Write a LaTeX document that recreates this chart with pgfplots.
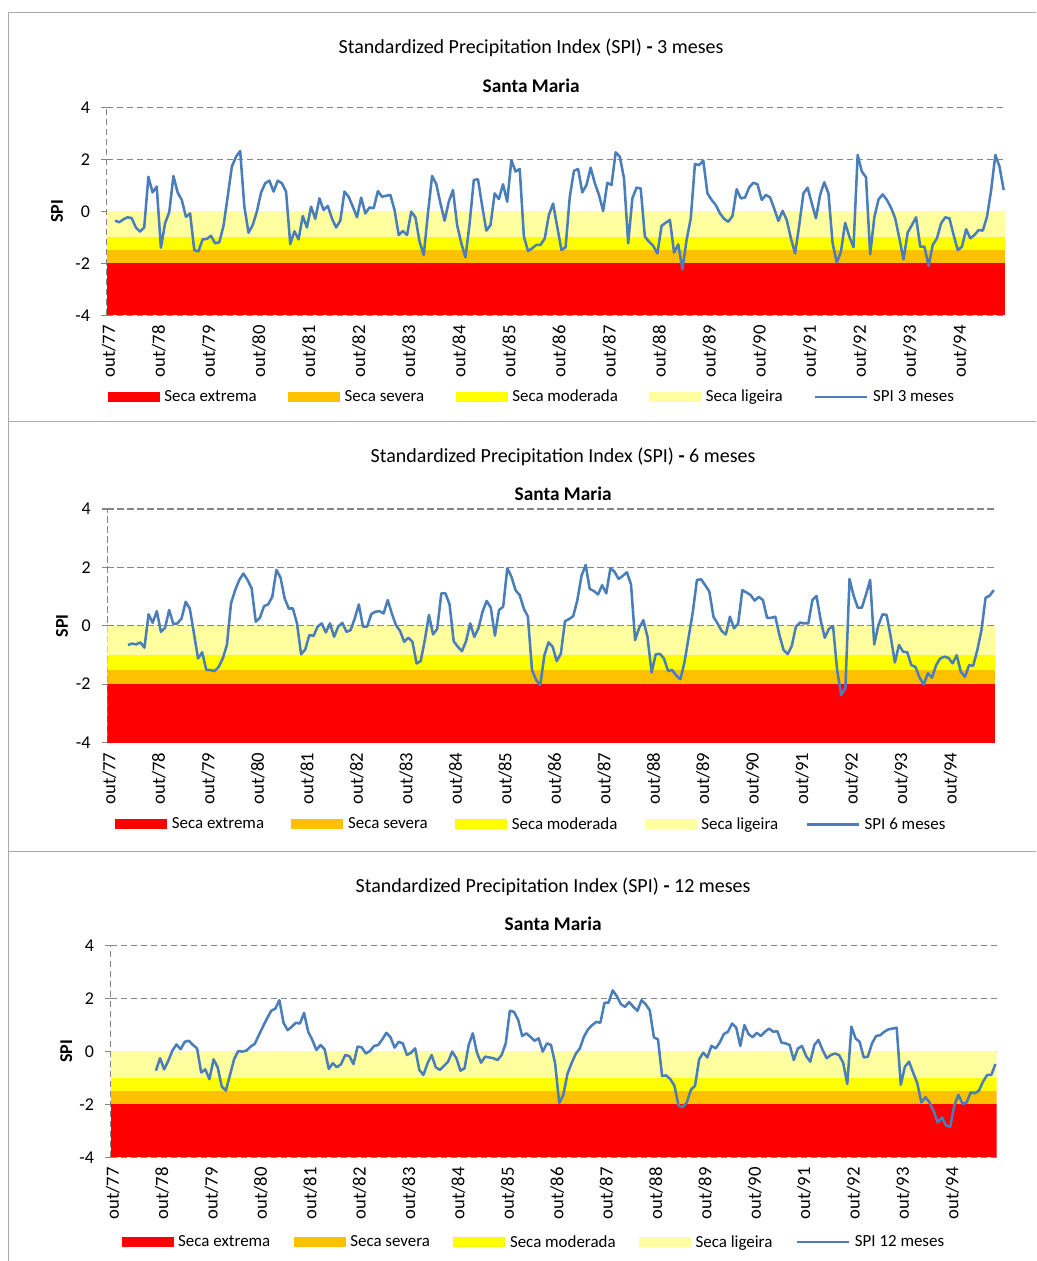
\documentclass[border=0pt]{standalone}
\usepackage{fontspec}
\setmainfont{Carlito}
\usepackage{pgfplots}
\pgfplotsset{compat=1.18}
\definecolor{spiblue}{RGB}{74,126,187}
\definecolor{secaext}{RGB}{255,0,0}
\definecolor{secasev}{RGB}{255,192,0}
\definecolor{secamod}{RGB}{255,255,0}
\definecolor{secalig}{RGB}{255,255,160}
\definecolor{gridgray}{RGB}{134,134,134}
\definecolor{framegray}{RGB}{170,170,170}

\pgfplotsset{
 spi/.style={
  scale only axis,
  xmin=0, xmax=215.3, ymin=-4, ymax=4,
  axis lines*=left,
  separate axis lines,
  x axis line style={draw=none},
  y axis line style={draw=gridgray, line width=0.9pt, dash pattern=on 5pt off 2.5pt},
  ytick={-4,-2,0,2,4}, yticklabels={-4,-2,0,2,4},
  xtick={0.5,12.5,24.5,36.5,48.5,60.5,72.5,84.5,96.5,108.5,120.5,132.5,144.5,156.5,168.5,180.5,192.5,204.5},
  xticklabels={out/77,out/78,out/79,out/80,out/81,out/82,out/83,out/84,out/85,out/86,out/87,out/88,out/89,out/90,out/91,out/92,out/93,out/94},
  x tick label style={rotate=90, anchor=east, font=\fontsize{14}{16}\selectfont},
  y tick label style={font=\fontsize{13.5}{16}\selectfont, xshift=-5pt},
  xtick style={draw=none},
  ytick style={draw=gridgray, line width=0.9pt},
  tick align=outside, major tick length=4pt,
  ymajorgrids,
  major grid style={draw=gridgray, line width=0.9pt, dash pattern=on 5pt off 2.5pt},
  ylabel={\textbf{SPI}},
  ylabel style={font=\fontsize{13.5}{16}\selectfont, anchor=center},
  legend columns=5,
  legend style={draw=none, fill=none, font=\fontsize{12.7}{15}\selectfont,
    /tikz/every odd column/.append style={column sep=1.5pt}},
  legend cell align=left,
 },
 bext/.style={draw=none, fill=secaext, legend image code/.code={\fill[secaext] (0pt,-3.7pt) rectangle (39pt,3.7pt);}},
 bsev/.style={draw=none, fill=secasev, legend image code/.code={\fill[secasev] (0pt,-3.7pt) rectangle (39pt,3.7pt);}},
 bmod/.style={draw=none, fill=secamod, legend image code/.code={\fill[secamod] (0pt,-3.7pt) rectangle (39pt,3.7pt);}},
 blig/.style={draw=none, fill=secalig, legend image code/.code={\fill[secalig] (0pt,-3.7pt) rectangle (39pt,3.7pt);}},
 sline/.style={spiblue, line width=1.9pt, line join=round, mark=none, legend image code/.code={\draw[spiblue, line width=1.9pt] (0pt,0pt) -- (39pt,0pt);}},
}

\begin{document}
\begin{tikzpicture}
\useasboundingbox (0pt,0pt) rectangle (777pt,-945.75pt);
\draw[framegray, line width=0.75pt] (6pt,-9pt) -- (777pt,-9pt);
\draw[framegray, line width=0.75pt] (6pt,-9pt) -- (6pt,-945.75pt);
\draw[framegray, line width=0.75pt] (6pt,-315.75pt) -- (777pt,-315.75pt);
\draw[framegray, line width=0.75pt] (6pt,-638.25pt) -- (777pt,-638.25pt);

% ---------------- Panel 1: SPI 3 meses
\begin{axis}[spi, at={(80.0pt,-80.5pt)}, anchor=north west, width=673.7pt, height=156pt,
  ylabel style={at={(axis description cs:-0.0553,0.5)}},
  legend style={at={(0.4737,-0.393)}, anchor=center, /tikz/every even column/.append style={column sep=21.5pt}}]
\addplot[bext] coordinates {(0,-4) (215.3,-4) (215.3,-2) (0,-2)};
\addlegendentry{Seca extrema}
\addplot[bsev] coordinates {(0,-2) (215.3,-2) (215.3,-1.5) (0,-1.5)};
\addlegendentry{Seca severa}
\addplot[bmod] coordinates {(0,-1.5) (215.3,-1.5) (215.3,-1) (0,-1)};
\addlegendentry{Seca moderada}
\addplot[blig] coordinates {(0,-1) (215.3,-1) (215.3,0) (0,0)};
\addlegendentry{Seca ligeira}
\addplot[sline] coordinates {
(2,-0.36)(3,-0.42)(4,-0.31)(5,-0.23)(6,-0.26)(7,-0.62)(8,-0.78)(9,-0.62)(10,1.33)(11,0.73)
(12,0.95)(13,-1.40)(14,-0.46)(15,-0.03)(16,1.36)(17,0.73)(18,0.44)(19,-0.21)(20,-0.08)(21,-1.49)
(22,-1.54)(23,-1.08)(24,-1.06)(25,-0.94)(26,-1.23)(27,-1.19)(28,-0.56)(29,0.56)(30,1.72)(31,2.10)
(32,2.32)(33,0.18)(34,-0.82)(35,-0.53)(36,-0.01)(37,0.72)(38,1.08)(39,1.18)(40,0.76)(41,1.18)
(42,1.08)(43,0.76)(44,-1.26)(45,-0.77)(46,-1.08)(47,-0.18)(48,-0.62)(49,0.18)(50,-0.29)(51,0.50)
(52,0.05)(53,0.21)(54,-0.28)(55,-0.62)(56,-0.36)(57,0.76)(58,0.56)(59,0.18)(60,-0.23)(61,0.53)
(62,-0.08)(63,0.15)(64,0.12)(65,0.78)(66,0.56)(67,0.60)(68,0.63)(69,0.05)(70,-0.91)(71,-0.76)
(72,-0.91)(73,-0.01)(74,-0.23)(75,-1.17)(76,-1.68)(77,-0.08)(78,1.36)(79,1.05)(80,0.31)(81,-0.36)
(82,0.37)(83,0.82)(84,-0.53)(85,-1.23)(86,-1.77)(87,-0.46)(88,1.21)(89,1.23)(90,0.21)(91,-0.74)
(92,-0.53)(93,0.69)(94,0.47)(95,1.04)(96,0.37)(97,1.97)(98,1.53)(99,1.63)(100,-0.97)(101,-1.53)
(102,-1.42)(103,-1.29)(104,-1.29)(105,-1.04)(106,-0.14)(107,0.30)(108,-0.60)(109,-1.49)(110,-1.38)(111,0.56)
(112,1.56)(113,1.63)(114,0.73)(115,1.01)(116,1.68)(117,1.08)(118,0.63)(119,0.01)(120,1.10)(121,1.01)
(122,2.27)(123,2.10)(124,1.27)(125,-1.23)(126,0.50)(127,0.91)(128,0.88)(129,-0.97)(130,-1.17)(131,-1.33)
(132,-1.62)(133,-0.56)(134,-0.44)(135,-0.33)(136,-1.59)(137,-1.27)(138,-2.23)(139,-1.10)(140,-0.27)(141,1.82)
(142,1.78)(143,1.95)(144,0.69)(145,0.44)(146,0.24)(147,-0.08)(148,-0.29)(149,-0.40)(150,-0.18)(151,0.85)
(152,0.50)(153,0.53)(154,0.92)(155,1.10)(156,1.04)(157,0.44)(158,0.63)(159,0.54)(160,0.10)(161,-0.37)
(162,0.02)(163,-0.33)(164,-1.04)(165,-1.62)(166,-0.53)(167,0.69)(168,0.91)(169,0.31)(170,-0.27)(171,0.63)
(172,1.12)(173,0.69)(174,-1.23)(175,-1.97)(176,-1.55)(177,-0.44)(178,-0.97)(179,-1.38)(180,2.17)(181,1.53)
(182,1.31)(183,-1.65)(184,-0.23)(185,0.46)(186,0.65)(187,0.44)(188,0.14)(189,-0.27)(190,-1.04)(191,-1.85)
(192,-0.81)(193,-0.53)(194,-0.23)(195,-1.36)(196,-1.36)(197,-2.10)(198,-1.29)(199,-1.04)(200,-0.46)(201,-0.23)
(202,-0.27)(203,-0.91)(204,-1.49)(205,-1.36)(206,-0.69)(207,-1.04)(208,-0.91)(209,-0.72)(210,-0.74)(211,-0.21)
(212,0.82)(213,2.17)(214,1.72)(215,0.82)
};
\addlegendentry{SPI 3 meses}
\end{axis}

% ---------------- Panel 2: SPI 6 meses
\begin{axis}[spi, at={(80.5pt,-381.7pt)}, anchor=north west, width=665.8pt, height=175.2pt,
  ylabel style={at={(axis description cs:-0.051,0.5)}},
  legend style={at={(0.478,-0.35)}, anchor=center, /tikz/every even column/.append style={column sep=18.5pt}}]
\addplot[bext] coordinates {(0,-4) (215.3,-4) (215.3,-2) (0,-2)};
\addlegendentry{Seca extrema}
\addplot[bsev] coordinates {(0,-2) (215.3,-2) (215.3,-1.5) (0,-1.5)};
\addlegendentry{Seca severa}
\addplot[bmod] coordinates {(0,-1.5) (215.3,-1.5) (215.3,-1) (0,-1)};
\addlegendentry{Seca moderada}
\addplot[blig] coordinates {(0,-1) (215.3,-1) (215.3,0) (0,0)};
\addlegendentry{Seca ligeira}
\addplot[sline] coordinates {
(5,-0.66)(6,-0.61)(7,-0.64)(8,-0.57)(9,-0.75)(10,0.39)(11,0.10)(12,0.50)(13,-0.21)(14,-0.07)
(15,0.54)(16,0.06)(17,0.08)(18,0.25)(19,0.82)(20,0.59)(21,-0.26)(22,-1.12)(23,-0.91)(24,-1.51)
(25,-1.52)(26,-1.55)(27,-1.41)(28,-1.12)(29,-0.66)(30,0.77)(31,1.22)(32,1.57)(33,1.79)(34,1.57)
(35,1.28)(36,0.14)(37,0.27)(38,0.67)(39,0.73)(40,0.99)(41,1.91)(42,1.65)(43,0.94)(44,0.59)
(45,0.59)(46,0.08)(47,-0.98)(48,-0.81)(49,-0.32)(50,-0.35)(51,-0.03)(52,0.08)(53,-0.23)(54,0.08)
(55,-0.38)(56,-0.03)(57,0.10)(58,-0.21)(59,-0.15)(60,0.25)(61,0.73)(62,-0.03)(63,-0.03)(64,0.40)
(65,0.48)(66,0.50)(67,0.42)(68,0.88)(69,0.42)(70,0.02)(71,-0.18)(72,-0.55)(73,-0.41)(74,-0.55)
(75,-1.29)(76,-1.21)(77,-0.49)(78,0.37)(79,-0.30)(80,-0.11)(81,1.11)(82,1.11)(83,0.73)(84,-0.53)
(85,-0.72)(86,-0.87)(87,-0.53)(88,0.08)(89,-0.38)(90,-0.09)(91,0.48)(92,0.85)(93,0.62)(94,-0.34)
(95,0.54)(96,0.65)(97,1.97)(98,1.68)(99,1.22)(100,1.05)(101,0.59)(102,0.31)(103,-1.52)(104,-1.86)
(105,-2.03)(106,-1.01)(107,-0.57)(108,-0.72)(109,-1.21)(110,-0.95)(111,0.16)(112,0.23)(113,0.33)(114,0.88)
(115,1.71)(116,2.08)(117,1.26)(118,1.19)(119,1.07)(120,1.39)(121,1.11)(122,1.97)(123,1.85)(124,1.60)
(125,1.71)(126,1.83)(127,1.42)(128,-0.49)(129,-0.07)(130,0.19)(131,-0.38)(132,-1.60)(133,-0.98)(134,-0.96)
(135,-1.12)(136,-1.55)(137,-1.52)(138,-1.71)(139,-1.83)(140,-1.23)(141,-0.38)(142,0.48)(143,1.57)(144,1.59)
(145,1.39)(146,1.17)(147,0.31)(148,0.08)(149,-0.18)(150,-0.30)(151,0.31)(152,-0.09)(153,0.08)(154,1.22)
(155,1.14)(156,1.05)(157,0.86)(158,0.99)(159,0.88)(160,0.27)(161,0.27)(162,0.31)(163,-0.32)(164,-0.83)
(165,-0.97)(166,-0.69)(167,-0.03)(168,0.11)(169,0.08)(170,0.08)(171,0.88)(172,1.02)(173,0.19)(174,-0.41)
(175,-0.11)(176,-0.01)(177,-1.52)(178,-2.38)(179,-2.13)(180,1.60)(181,1.03)(182,0.62)(183,0.62)(184,1.07)
(185,1.57)(186,-0.64)(187,0.02)(188,0.39)(189,0.37)(190,-0.38)(191,-1.26)(192,-0.66)(193,-0.89)(194,-0.91)
(195,-1.35)(196,-1.41)(197,-1.78)(198,-2.01)(199,-1.63)(200,-1.78)(201,-1.35)(202,-1.12)(203,-1.06)(204,-1.10)
(205,-1.29)(206,-1.01)(207,-1.58)(208,-1.75)(209,-1.35)(210,-1.37)(211,-0.83)(212,-0.15)(213,0.96)(214,1.03)
(215,1.22)
};
\addlegendentry{SPI 6 meses}
\end{axis}

% ---------------- Panel 3: SPI 12 meses
\begin{axis}[spi, at={(83.0pt,-709.0pt)}, anchor=north west, width=664.5pt, height=159pt,
  ylabel style={at={(axis description cs:-0.050,0.5)}},
  legend style={at={(0.478,-0.4)}, anchor=center, /tikz/every even column/.append style={column sep=15.5pt}}]
\addplot[bext] coordinates {(0,-4) (215.3,-4) (215.3,-2) (0,-2)};
\addlegendentry{Seca extrema}
\addplot[bsev] coordinates {(0,-2) (215.3,-2) (215.3,-1.5) (0,-1.5)};
\addlegendentry{Seca severa}
\addplot[bmod] coordinates {(0,-1.5) (215.3,-1.5) (215.3,-1) (0,-1)};
\addlegendentry{Seca moderada}
\addplot[blig] coordinates {(0,-1) (215.3,-1) (215.3,0) (0,0)};
\addlegendentry{Seca ligeira}
\addplot[sline] coordinates {
(11,-0.73)(12,-0.26)(13,-0.68)(14,-0.36)(15,0.03)(16,0.26)(17,0.08)(18,0.36)(19,0.40)(20,0.24)
(21,0.11)(22,-0.80)(23,-0.68)(24,-1.05)(25,-0.30)(26,-0.60)(27,-1.33)(28,-1.48)(29,-0.89)(30,-0.30)
(31,0.01)(32,-0.01)(33,0.03)(34,0.18)(35,0.28)(36,0.61)(37,0.93)(38,1.24)(39,1.53)(40,1.61)
(41,1.93)(42,1.08)(43,0.80)(44,0.93)(45,1.08)(46,1.05)(47,1.45)(48,0.74)(49,0.43)(50,0.05)
(51,0.24)(52,0.08)(53,-0.66)(54,-0.45)(55,-0.60)(56,-0.48)(57,-0.14)(58,-0.18)(59,-0.48)(60,0.18)
(61,0.15)(62,-0.08)(63,0.01)(64,0.20)(65,0.24)(66,0.45)(67,0.70)(68,0.53)(69,0.14)(70,0.36)
(71,0.30)(72,-0.14)(73,-0.05)(74,0.11)(75,-0.70)(76,-0.89)(77,-0.45)(78,-0.14)(79,-0.60)(80,-0.70)
(81,-0.55)(82,-0.39)(83,-0.01)(84,-0.26)(85,-0.73)(86,-0.64)(87,0.24)(88,0.68)(89,-0.05)(90,-0.43)
(91,-0.20)(92,-0.23)(93,-0.26)(94,-0.33)(95,-0.14)(96,0.30)(97,1.53)(98,1.49)(99,1.20)(100,0.58)
(101,0.68)(102,0.55)(103,0.40)(104,0.49)(105,-0.01)(106,0.30)(107,0.24)(108,-0.45)(109,-1.95)(110,-1.64)
(111,-0.85)(112,-0.45)(113,-0.10)(114,0.11)(115,0.55)(116,0.83)(117,0.99)(118,1.11)(119,1.08)(120,1.83)
(121,1.84)(122,2.30)(123,2.08)(124,1.78)(125,1.68)(126,1.86)(127,1.68)(128,1.53)(129,1.93)(130,1.78)
(131,1.55)(132,0.53)(133,0.45)(134,-0.93)(135,-0.91)(136,-1.05)(137,-1.30)(138,-2.05)(139,-2.10)(140,-1.93)
(141,-1.45)(142,-1.30)(143,-0.30)(144,-0.05)(145,-0.23)(146,0.21)(147,0.11)(148,0.33)(149,0.65)(150,0.74)
(151,1.05)(152,0.90)(153,0.20)(154,0.99)(155,0.65)(156,0.53)(157,0.70)(158,0.58)(159,0.74)(160,0.86)
(161,0.74)(162,0.76)(163,0.33)(164,0.30)(165,0.24)(166,-0.33)(167,0.11)(168,0.20)(169,-0.18)(170,-0.39)
(171,0.24)(172,0.43)(173,0.05)(174,-0.26)(175,-0.14)(176,-0.08)(177,-0.14)(178,-0.43)(179,-1.23)(180,0.93)
(181,0.49)(182,0.36)(183,-0.23)(184,-0.20)(185,0.30)(186,0.58)(187,0.61)(188,0.74)(189,0.83)(190,0.86)
(191,0.89)(192,-1.26)(193,-0.58)(194,-0.39)(195,-0.80)(196,-1.20)(197,-1.93)(198,-1.73)(199,-1.93)(200,-2.26)
(201,-2.68)(202,-2.49)(203,-2.80)(204,-2.85)(205,-2.05)(206,-1.64)(207,-1.98)(208,-1.93)(209,-1.55)(210,-1.58)
(211,-1.48)(212,-1.14)(213,-0.89)(214,-0.89)(215,-0.48)
};
\addlegendentry{SPI 12 meses}
\end{axis}

% titles
\node[font=\fontsize{15}{18}\selectfont] at (398.3pt,-36pt) {Standardized Precipitation Index (SPI) \textbf{-} 3 meses};
\node[font=\fontsize{14.5}{17}\selectfont\bfseries] at (398.3pt,-64.5pt) {Santa Maria};
\node[font=\fontsize{15}{18}\selectfont] at (422.3pt,-342.8pt) {Standardized Precipitation Index (SPI) \textbf{-} 6 meses};
\node[font=\fontsize{14.5}{17}\selectfont\bfseries] at (422.3pt,-370.5pt) {Santa Maria};
\node[font=\fontsize{15}{18}\selectfont] at (414.8pt,-665.3pt) {Standardized Precipitation Index (SPI) \textbf{-} 12 meses};
\node[font=\fontsize{14.5}{17}\selectfont\bfseries] at (414.8pt,-693pt) {Santa Maria};
\end{tikzpicture}
\end{document}
